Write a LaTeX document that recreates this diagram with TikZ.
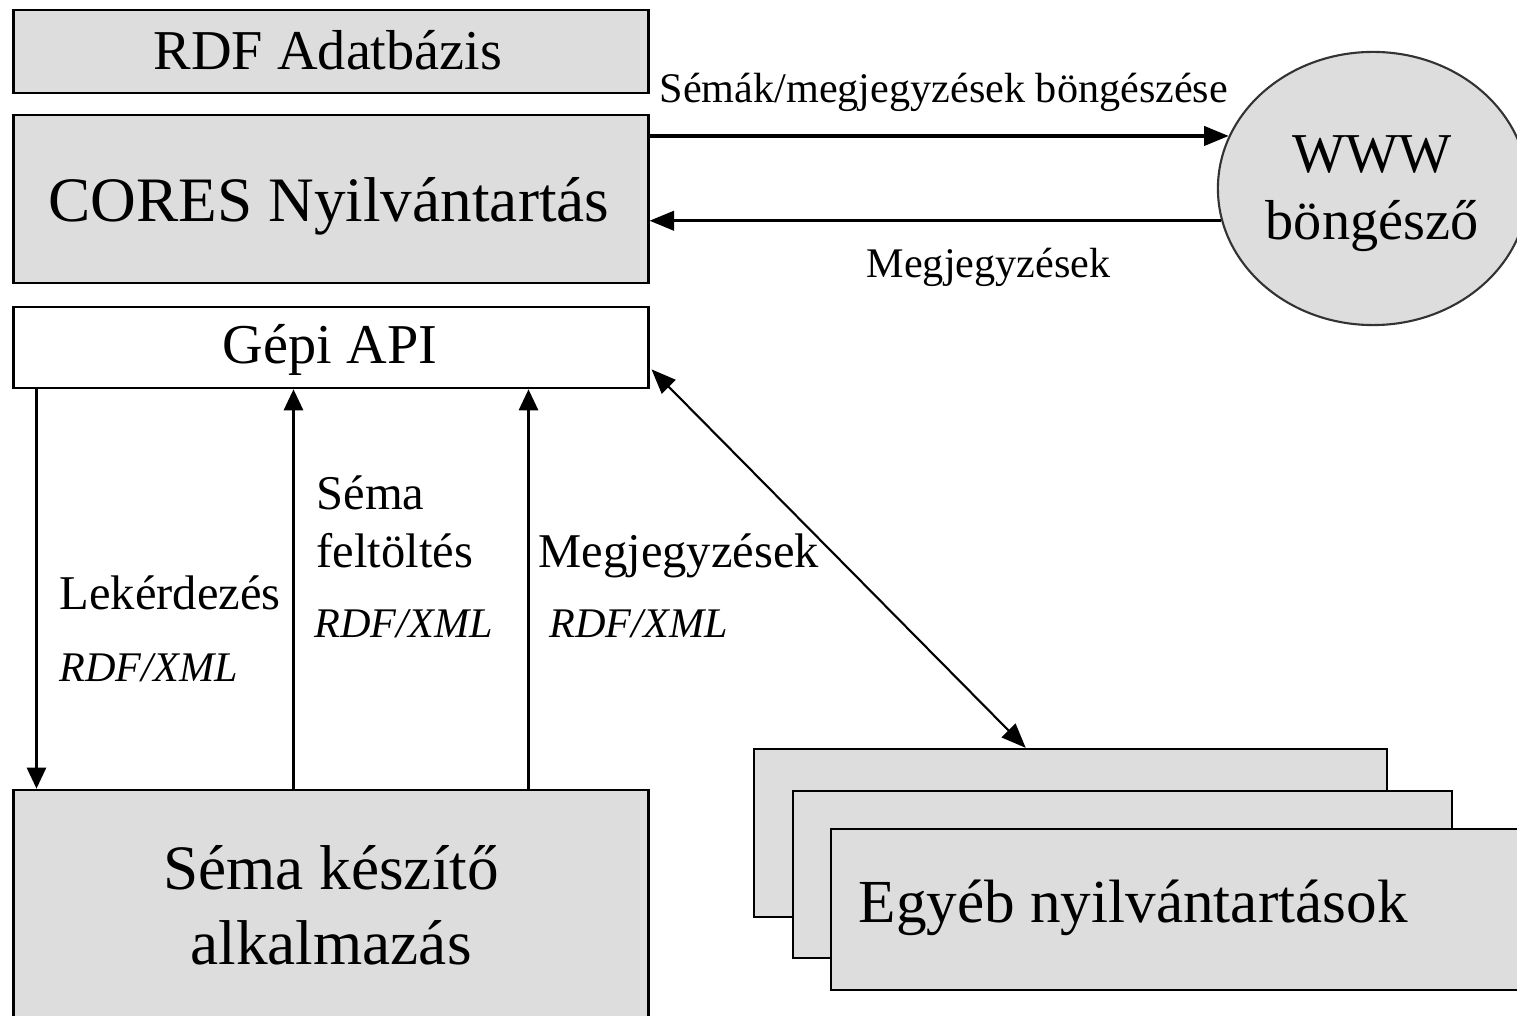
\documentclass[tikz,border=0pt]{standalone}
\usepackage{fontspec}
\setmainfont{Liberation Serif}
\usetikzlibrary{arrows.meta,shapes.geometric,calc}
\definecolor{boxgray}{RGB}{221,221,221}
\begin{document}
\begin{tikzpicture}[x=0.01cm,y=-0.01cm,
  box/.style={draw=black, line width=0.75pt, fill=boxgray, inner sep=0pt},
  wbox/.style={draw=black, line width=0.75pt, fill=white, inner sep=0pt},
  sbox/.style={draw=black, line width=0.6pt, fill=boxgray, inner sep=0pt},
  lbl/.style={anchor=base west, inner sep=0pt},
  ctxt/.style={anchor=base, inner sep=0pt},
  harr/.style={line width=0.9pt, -{Triangle[length=7pt,width=5.5pt]}},
  varr/.style={line width=0.6pt, -{Triangle[length=6pt,width=5.5pt]}},
  darr/.style={line width=0.6pt, {Triangle[length=7pt,width=5.5pt]}-{Triangle[length=7pt,width=5.5pt]}},
  big/.style={font=\fontsize{18}{21}\selectfont},
  mid/.style={font=\fontsize{16}{19}\selectfont},
  med/.style={font=\fontsize{13.8}{16}\selectfont},
  small/.style={font=\fontsize{12}{14}\selectfont},
  ital/.style={font=\fontsize{12}{14}\selectfont\itshape}]
\useasboundingbox (0,0) rectangle (1517,1016);

% left column boxes
\node[box, minimum width=6.34cm, minimum height=0.83cm] (rdf) at (331,51.5) {};
\node[ctxt, mid] (rdfT) at (328,70) {RDF Adatbázis};
\node[box, minimum width=6.34cm, minimum height=1.68cm] (cores) at (331,199) {};
\node[ctxt, big] (coresT) at (329,222) {CORES Nyilvántartás};
\node[wbox, minimum width=6.34cm, minimum height=0.81cm] (api) at (331,347.5) {};
\node[ctxt, mid] (apiT) at (330,364) {Gépi API};
\node[box, minimum width=6.34cm, minimum height=2.40cm] (seed) at (331,910) {};
\node[ctxt, big] (seedT1) at (331,890) {Séma készítő};
\node[ctxt, big] (seedT2) at (331,965) {alkalmazás};

% browser
\node[ellipse, draw=black!80, line width=0.6pt, fill=boxgray, minimum width=3.10cm, minimum height=2.73cm, inner sep=0pt] (www) at (1373,188.5) {};
\node[ctxt, mid] (wwwT1) at (1372,173) {WWW};
\node[ctxt, mid] (wwwT2) at (1372,240) {böngésző};

% other registries
\node[sbox, minimum width=6.33cm, minimum height=1.68cm] (eg1) at (1070.5,833) {};
\node[sbox, minimum width=6.59cm, minimum height=1.67cm] (eg2) at (1122.5,874.5) {};
\node[sbox, minimum width=7.09cm, minimum height=1.61cm] (eg3) at (1185.5,909.5) {};
\node[lbl, font=\fontsize{17.4}{20}\selectfont] (egT) at (858,923) {Egyéb nyilvántartások};

% browser arrows
\draw[harr] (cores.east |- www.160) -- (www.160);
\draw[harr] (www.192) -- (cores.east |- www.192);
\node[lbl, small] (l1) at (659,103) {Sémák/megjegyzések böngészése};
\node[lbl, small] (l2) at (866,278) {Megjegyzések};

% vertical arrows
\draw[varr] ($(api.south west)+(24,0)$) -- ($(seed.north west)+(24,0)$);
\draw[varr] ($(seed.north west)+(281,0)$) -- ($(api.south west)+(281,0)$);
\draw[varr] ($(seed.north west)+(516,0)$) -- ($(api.south west)+(516,0)$);

\node[lbl, med] (q1) at (59,610) {Lekérdezés};
\node[lbl, ital] (q2) at (59,682) {RDF/XML};
\node[lbl, med] (s1) at (316,510) {Séma};
\node[lbl, med] (s2) at (316,568) {feltöltés};
\node[lbl, ital] (s3) at (314,638) {RDF/XML};
\node[lbl, med] (m1) at (538,568) {Megjegyzések};
\node[lbl, ital] (m2) at (549,638) {RDF/XML};

% diagonal
\draw[darr] ($(api.south east)+(2,-20)$) -- ($(eg1.north west)+(273,0)$);
\end{tikzpicture}
\end{document}
